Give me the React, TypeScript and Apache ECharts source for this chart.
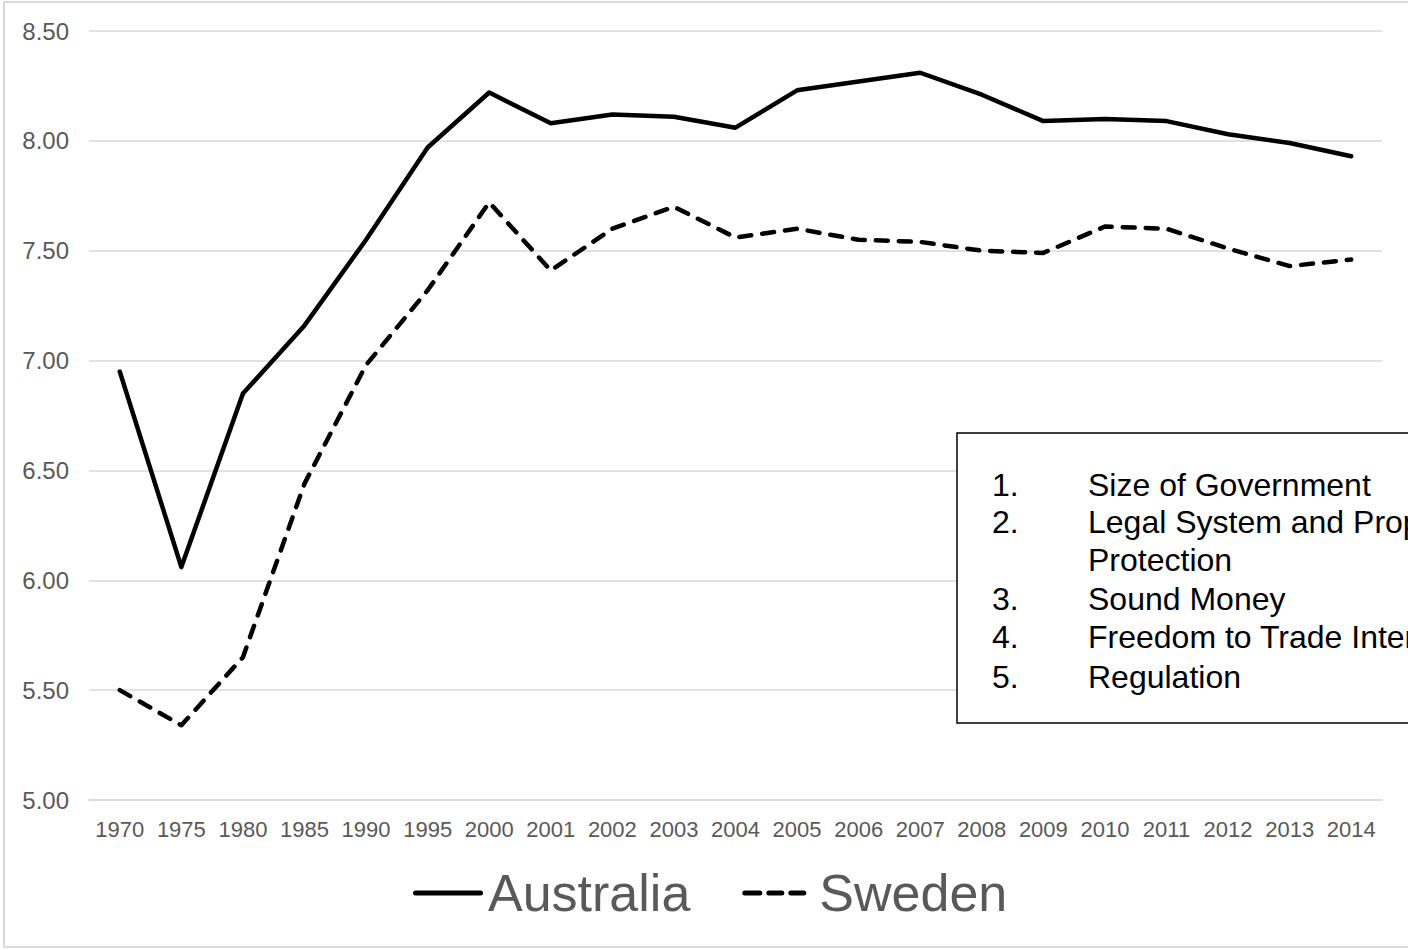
import React, { useEffect, useRef } from "react";
import * as echarts from "echarts";

const years = ["1970","1975","1980","1985","1990","1995","2000","2001","2002","2003","2004","2005","2006","2007","2008","2009","2010","2011","2012","2013","2014"];
const australia = [6.95, 6.06, 6.85, 7.16, 7.55, 7.97, 8.22, 8.08, 8.12, 8.11, 8.06, 8.23, 8.27, 8.31, 8.21, 8.09, 8.10, 8.09, 8.03, 7.99, 7.93];
const sweden = [5.50, 5.34, 5.65, 6.44, 6.98, 7.32, 7.72, 7.41, 7.60, 7.70, 7.56, 7.60, 7.55, 7.54, 7.50, 7.49, 7.61, 7.60, 7.51, 7.43, 7.46];
const boxNumbers = ["1.", "2.", "", "3.", "4.", "5."];
const boxLabels = ["Size of Government", "Legal System and Property Rights", "Protection", "Sound Money", "Freedom to Trade Internationally", "Regulation"];
const boxLineY = [485, 522, 560, 599, 637, 677];

const FONT = '"Liberation Sans", Arial, Helvetica, sans-serif';
const SOLID_ICON = "path://M2.5,0H67.5A2.5,2.5,0,0,1,67.5,5H2.5A2.5,2.5,0,0,1,2.5,0Z";
const DASH_ICON =
  "path://M2.5,0H17.5A2.5,2.5,0,0,1,17.5,5H2.5A2.5,2.5,0,0,1,2.5,0Z" +
  "M26.5,0H39.5A2.5,2.5,0,0,1,39.5,5H26.5A2.5,2.5,0,0,1,26.5,0Z" +
  "M48.5,0H61.5A2.5,2.5,0,0,1,61.5,5H48.5A2.5,2.5,0,0,1,48.5,0Z";

export default function App() {
  const ref = useRef<HTMLDivElement>(null);
  useEffect(() => {
    document.body.style.margin = "0";
    const chart = echarts.init(ref.current!, null, { renderer: "svg" });
    const boxTexts: any[] = [];
    boxLabels.forEach((t, i) => {
      if (boxNumbers[i]) {
        boxTexts.push({
          type: "text", x: 992, y: boxLineY[i], z: 20,
          style: { text: boxNumbers[i], fontSize: 32, fontFamily: FONT, fill: "#000", textVerticalAlign: "middle", textAlign: "left" },
        });
      }
      boxTexts.push({
        type: "text", x: 1088, y: boxLineY[i], z: 20,
        style: { text: t, fontSize: 32, fontFamily: FONT, fill: "#000", textVerticalAlign: "middle", textAlign: "left" },
      });
    });
    chart.setOption({
      animation: false,
      backgroundColor: "#fff",
      grid: { left: 89, right: 26, top: 31, bottom: 150, containLabel: false },
      xAxis: {
        type: "category",
        data: years,
        boundaryGap: true,
        axisLine: { show: true, lineStyle: { color: "#d9d9d9", width: 1.5 } },
        axisTick: { show: false },
        axisLabel: { color: "#595959", fontSize: 22, fontFamily: FONT, margin: 18, interval: 0 },
      },
      yAxis: {
        type: "value",
        min: 5,
        max: 8.5,
        interval: 0.5,
        axisLine: { show: false },
        axisTick: { show: false },
        splitLine: { lineStyle: { color: "#d9d9d9", width: 1.5 } },
        axisLabel: { color: "#595959", fontSize: 24, fontFamily: FONT, margin: 20, formatter: (v: number) => v.toFixed(2) },
      },
      legend: {
        left: 413,
        top: 867,
        padding: 0,
        itemWidth: 70,
        itemHeight: 5,
        itemGap: 52,
        textStyle: { color: "#595959", fontSize: 52, fontFamily: FONT },
        data: [
          { name: "Australia", icon: SOLID_ICON, itemStyle: { color: "#000" } },
          { name: "Sweden", icon: DASH_ICON, itemStyle: { color: "#000" }, textStyle: { padding: [0, 0, 0, 5] } },
        ],
      },
      series: [
        {
          name: "Australia",
          type: "line",
          data: australia,
          symbol: "none",
          lineStyle: { color: "#000", width: 4.5, cap: "round", join: "round" },
          itemStyle: { color: "#000" },
          z: 5,
        },
        {
          name: "Sweden",
          type: "line",
          data: sweden,
          symbol: "none",
          lineStyle: { color: "#000", width: 4.5, type: [12, 11], cap: "round", join: "round" },
          itemStyle: { color: "#000" },
          z: 5,
        },
      ],
      graphic: [
        {
          type: "rect", shape: { x: 4, y: 2, width: 1440, height: 945 }, z: -1, silent: true,
          style: { fill: "none", stroke: "#d9d9d9", lineWidth: 2 },
        },
        {
          type: "rect", shape: { x: 957, y: 433, width: 520, height: 290 }, z: 15,
          style: { fill: "#fff", stroke: "#000", lineWidth: 1.5 },
        },
        ...boxTexts,
      ],
    });
    return () => chart.dispose();
  }, []);
  return <div ref={ref} style={{ position: "absolute", left: 0, top: 0, width: 1408, height: 950 }} />;
}
